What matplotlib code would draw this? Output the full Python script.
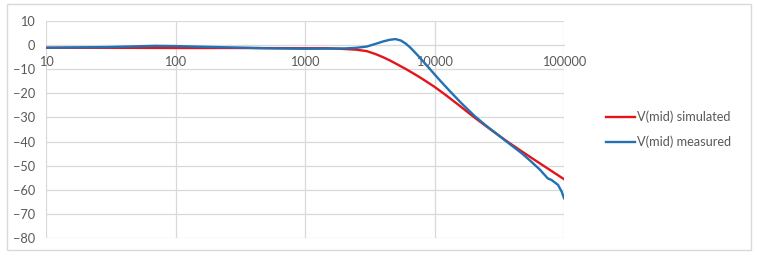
import matplotlib
matplotlib.use("Agg")
import matplotlib.pyplot as plt
from matplotlib.patches import Rectangle

plt.rcParams["font.family"] = ["Lato", "DejaVu Sans"]

# frequency (Hz) / level (dB)
sim_freq = [10, 30, 100, 300, 1000, 1500, 2000, 2500, 3000, 3500, 4000, 4500, 5000,
            6000, 7000, 8000, 9000, 10000, 12000, 15000, 20000, 25000, 30000, 36000,
            47000, 60000, 75000, 90000, 100000]
sim_db = [-1.1, -1.1, -1.2, -1.2, -1.3, -1.3, -1.6, -1.9, -2.5, -3.7, -5.0, -6.3, -7.6,
          -9.9, -12.0, -13.9, -15.7, -17.3, -20.4, -24.4, -29.7, -33.6, -36.7, -39.8,
          -44.0, -47.8, -51.2, -54.0, -55.6]

meas_freq = [10, 30, 70, 100, 200, 500, 1000, 2000, 2500, 3000, 3500, 4000, 4500, 5000,
             5500, 6000, 6500, 7000, 7500, 8000, 9000, 10000, 11000, 12000, 13200, 16000,
             20300, 25000, 30000, 36000, 47000, 55000, 65000, 70000, 75000, 80000, 90000,
             96000, 100000]
meas_db = [-1.1, -0.8, -0.3, -0.4, -0.8, -1.3, -1.5, -1.4, -1.1, -0.6, 0.5, 1.5, 2.2, 2.5,
           1.9, 0.6, -1.0, -2.8, -4.5, -6.2, -9.3, -12.1, -14.6, -16.8, -19.2, -23.9,
           -29.3, -33.4, -36.7, -40.0, -44.8, -48.0, -51.6, -53.5, -55.3, -55.9, -58.0,
           -60.8, -63.5]

x_ticks = [10, 100, 1000, 10000, 100000]
y_ticks = list(range(-80, 11, 10))

W, H = 757, 258
fig = plt.figure(figsize=(W / 100, H / 100), dpi=100)
ax = fig.add_axes([46 / W, 1 - 238 / H, (564 - 46) / W, (238 - 21) / H])

grid_c = "#d9d9d9"
text_c = "#595959"
fs = 9.2

ax.plot(sim_freq, sim_db, color="#e3141b", lw=1.7, label="V(mid) simulated", zorder=3)
ax.plot(meas_freq, meas_db, color="#2271b3", lw=1.7, label="V(mid) measured", zorder=4)

ax.set_xscale("log")
ax.set_xlim(10, 100000)
ax.set_ylim(-80, 10)
ax.set_xticks(x_ticks)
ax.set_xticklabels([str(v) for v in x_ticks])
ax.minorticks_off()
ax.set_yticks(y_ticks)
ax.grid(True, color=grid_c, lw=0.9)
ax.set_axisbelow(True)

for side in ["top", "right", "left"]:
    ax.spines[side].set_visible(False)
ax.spines["bottom"].set_position(("data", 0))
ax.spines["bottom"].set_color(grid_c)
ax.tick_params(axis="x", length=0, pad=8, labelsize=fs, labelcolor=text_c)
ax.tick_params(axis="y", length=0, pad=8, labelsize=fs, labelcolor=text_c)

fig.legend(loc="center left", bbox_to_anchor=(606 / W, 1 - 129.5 / H), frameon=False,
           fontsize=fs, handlelength=2.3, handletextpad=0.15, labelspacing=0.95,
           borderpad=0, borderaxespad=0, labelcolor=text_c)

fig.patches.append(Rectangle((7 / W, 1 - 250 / H), (751 - 7) / W, (250 - 4) / H,
                             transform=fig.transFigure, fill=False, ec=grid_c, lw=1))

fig.savefig("out.png", dpi=100)
